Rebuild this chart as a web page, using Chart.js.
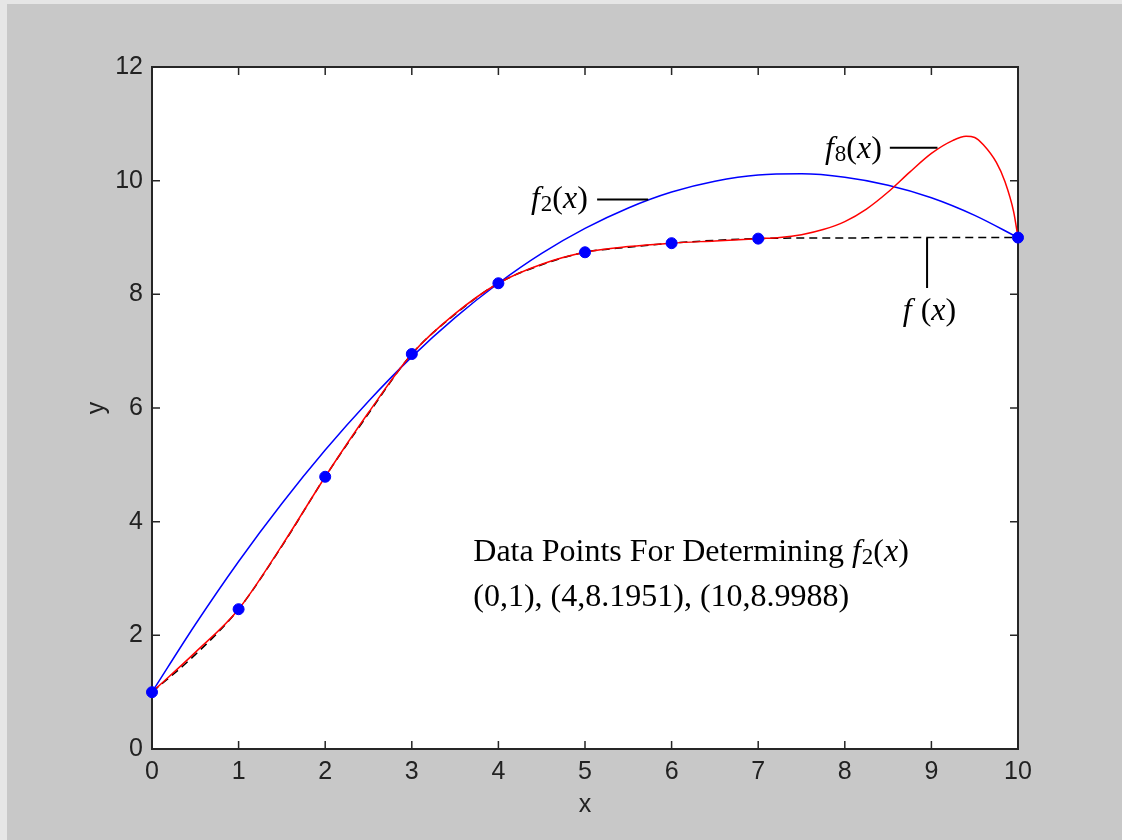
<!DOCTYPE html>
<html>
<head>
<meta charset="utf-8">
<title>f(x), f2(x), f8(x)</title>
<script src="https://cdn.jsdelivr.net/npm/chart.js@4.4.1/dist/chart.umd.min.js"></script>
<style>
  html, body { margin: 0; padding: 0; background: #c8c8c8; }
  #plot { display: block; }
</style>
</head>
<body>
<canvas id="plot" width="1122" height="840"></canvas>
<script>
'use strict';

/* Tick values */
const xTickValues = [0, 1, 2, 3, 4, 5, 6, 7, 8, 9, 10];
const yTickValues = [0, 2, 4, 6, 8, 10, 12];

/* f(x) - dashed black */
const fX = [0, 0.5, 1, 1.5, 2, 2.5, 3, 3.5, 4, 4.5, 5, 5.5, 6, 6.5, 7, 7.5, 8, 8.5, 9, 9.5, 10];
const fY = [1, 1.66, 2.46, 3.57, 4.79, 5.90, 6.95, 7.65, 8.1951, 8.52, 8.74, 8.83, 8.90, 8.95, 8.98, 8.99, 8.99, 9.0, 9.0, 9.0, 8.9988];

/* f2(x) - blue quadratic */
const f2X = [0, 0.5, 1, 1.5, 2, 2.5, 3, 3.5, 4, 4.5, 5, 5.5, 6, 6.5, 7, 7.5, 8, 8.5, 9, 9.5, 10];
const f2Y = [1, 2.19, 3.30, 4.32, 5.26, 6.12, 6.90, 7.59, 8.1951, 8.72, 9.16, 9.52, 9.80, 9.99, 10.10, 10.12, 10.06, 9.92, 9.70, 9.39, 8.9988];

/* f8(x) - red 8th order */
const f8X = [0, 0.5, 1, 1.5, 2, 2.5, 3, 3.5, 4, 4.5, 5, 5.5, 6, 6.5, 7, 7.25, 7.5, 7.75, 8, 8.25, 8.5, 8.75, 9, 9.25, 9.4, 9.5, 9.6, 9.75, 9.85, 9.95, 10];
const f8Y = [1, 1.70, 2.46, 3.58, 4.79, 5.92, 6.95, 7.66, 8.1951, 8.53, 8.74, 8.84, 8.90, 8.94, 8.98, 9.00, 9.05, 9.14, 9.28, 9.50, 9.80, 10.15, 10.48, 10.71, 10.78, 10.76, 10.63, 10.32, 9.98, 9.45, 8.9988];

/* sample points */
const ptX = [0, 1, 2, 3, 4, 5, 6, 7, 10];
const ptY = [1, 2.46, 4.79, 6.95, 8.1951, 8.74, 8.90, 8.98, 8.9988];

const BG = '#c8c8c8';
const AXIS_COLOR = '#262626';
const TICK_FONT = { family: '"Liberation Sans", Arial, sans-serif', size: 25 };
const SERIF = '"Liberation Serif", "Times New Roman", serif';
const TEXT_SIZE = 32;

/* annotations, in data units */
const labelF2 = { x: 4.376, y: 9.525, lineX: [5.14, 5.73], lineY: 9.67 };
const labelF8 = { x: 7.77, y: 10.40, lineX: [8.52, 9.07], lineY: 10.58 };
const labelF = { x: 8.67, y: 7.55, lineX: 8.95, lineY: [8.99, 8.11] };
const noteBox = { x: 3.71, y1: 3.31, y2: 2.52 };

const f2Parts = [{ t: 'f', it: true }, { t: '2', sub: true }, { t: '(' }, { t: 'x', it: true }, { t: ')' }];
const f8Parts = [{ t: 'f', it: true }, { t: '8', sub: true }, { t: '(' }, { t: 'x', it: true }, { t: ')' }];
const fParts = [{ t: 'f', it: true }, { t: ' (' }, { t: 'x', it: true }, { t: ')' }];

const toXY = (xs, ys) => xs.map((x, i) => ({ x, y: ys[i] }));

/* draw text made of italic / subscript runs */
function drawRich(ctx, parts, x, y) {
  let cx = x;
  for (const p of parts) {
    const size = p.sub ? Math.round(TEXT_SIZE * 0.72) : TEXT_SIZE;
    ctx.font = `${p.it ? 'italic ' : ''}${size}px ${SERIF}`;
    ctx.fillText(p.t, cx, y + (p.sub ? 3 : 0));
    cx += ctx.measureText(p.t).width + (p.it && p.t === 'f' ? 1 : 0);
  }
  return cx;
}

/* background, white axes area, box and inward ticks */
const axesFrame = {
  id: 'axesFrame',
  beforeDraw(chart) {
    const { ctx, chartArea: a, width, height } = chart;
    ctx.save();
    ctx.fillStyle = BG;
    ctx.fillRect(0, 0, width, height);
    ctx.fillStyle = '#e6e6e6';
    ctx.fillRect(0, 0, 7, height);
    ctx.fillRect(0, 0, width, 4);
    ctx.fillStyle = '#ffffff';
    ctx.fillRect(a.left, a.top, a.right - a.left, a.bottom - a.top);
    ctx.restore();
  },
  beforeDatasetsDraw(chart) {
    const { ctx, chartArea: a, scales } = chart;
    ctx.save();
    ctx.strokeStyle = AXIS_COLOR;
    ctx.lineWidth = 2;
    ctx.strokeRect(a.left, a.top, a.right - a.left, a.bottom - a.top);
    ctx.lineWidth = 1.5;
    ctx.beginPath();
    xTickValues.forEach(v => {
      const px = scales.x.getPixelForValue(v);
      ctx.moveTo(px, a.bottom); ctx.lineTo(px, a.bottom - 8);
      ctx.moveTo(px, a.top); ctx.lineTo(px, a.top + 8);
    });
    yTickValues.forEach(v => {
      const py = scales.y.getPixelForValue(v);
      ctx.moveTo(a.left, py); ctx.lineTo(a.left + 8, py);
      ctx.moveTo(a.right, py); ctx.lineTo(a.right - 8, py);
    });
    ctx.stroke();
    ctx.restore();
  },
  afterDraw(chart) {
    const { ctx, chartArea: a, scales } = chart;
    const sx = v => scales.x.getPixelForValue(v);
    const sy = v => scales.y.getPixelForValue(v);
    ctx.save();

    // axis titles
    ctx.fillStyle = '#222';
    ctx.font = `${TICK_FONT.size}px ${TICK_FONT.family}`;
    ctx.textAlign = 'center';
    ctx.textBaseline = 'middle';
    ctx.fillText('x', (a.left + a.right) / 2, 805);
    ctx.save();
    ctx.translate(97, (a.top + a.bottom) / 2);
    ctx.rotate(-Math.PI / 2);
    ctx.fillText('y', 0, 0);
    ctx.restore();

    // curve labels with leader lines
    ctx.fillStyle = '#000';
    ctx.strokeStyle = '#000';
    ctx.lineWidth = 2;
    ctx.textAlign = 'left';
    ctx.textBaseline = 'alphabetic';
    drawRich(ctx, f2Parts, sx(labelF2.x), sy(labelF2.y));
    drawRich(ctx, f8Parts, sx(labelF8.x), sy(labelF8.y));
    drawRich(ctx, fParts, sx(labelF.x), sy(labelF.y));
    ctx.beginPath();
    ctx.moveTo(sx(labelF2.lineX[0]), sy(labelF2.lineY));
    ctx.lineTo(sx(labelF2.lineX[1]), sy(labelF2.lineY));
    ctx.moveTo(sx(labelF8.lineX[0]), sy(labelF8.lineY));
    ctx.lineTo(sx(labelF8.lineX[1]), sy(labelF8.lineY));
    ctx.moveTo(sx(labelF.lineX), sy(labelF.lineY[0]));
    ctx.lineTo(sx(labelF.lineX), sy(labelF.lineY[1]));
    ctx.stroke();

    // note about the f2 data points
    const end = drawRich(ctx, [{ t: 'Data Points For Determining ' }], sx(noteBox.x), sy(noteBox.y1));
    drawRich(ctx, f2Parts, end, sy(noteBox.y1));
    drawRich(ctx, [{ t: '(0,1), (4,8.1951), (10,8.9988)' }], sx(noteBox.x), sy(noteBox.y2));
    ctx.restore();
  }
};

const lineBase = {
  pointRadius: 0,
  borderWidth: 1.5,
  fill: false,
  cubicInterpolationMode: 'monotone'
};

const chart = new Chart(document.getElementById('plot').getContext('2d'), {
  type: 'line',
  data: {
    datasets: [
      {
        ...lineBase,
        label: 'f(x)',
        data: toXY(fX, fY),
        borderColor: '#000000',
        borderDash: [8, 5],
        order: 4
      },
      {
        ...lineBase,
        label: 'f2(x)',
        data: toXY(f2X, f2Y),
        borderColor: '#0000ff',
        order: 3
      },
      {
        ...lineBase,
        label: 'f8(x)',
        data: toXY(f8X, f8Y),
        borderColor: '#ff0000',
        order: 2
      },
      {
        label: 'points',
        data: toXY(ptX, ptY),
        showLine: false,
        pointRadius: 5.5,
        pointStyle: 'circle',
        pointBackgroundColor: '#0000ff',
        pointBorderColor: '#0000ff',
        pointBorderWidth: 1,
        clip: false,
        order: 1
      }
    ]
  },
  options: {
    responsive: false,
    animation: false,
    devicePixelRatio: 1,
    events: [],
    layout: { padding: { top: 67, right: 104, left: 0, bottom: 0 } },
    plugins: {
      legend: { display: false },
      tooltip: { enabled: false }
    },
    scales: {
      x: {
        type: 'linear',
        min: 0,
        max: 10,
        afterBuildTicks: s => { s.ticks = xTickValues.map(v => ({ value: v })); },
        afterFit: s => { s.height = 91; },
        grid: { display: false, drawTicks: false },
        border: { display: false },
        ticks: { font: TICK_FONT, color: '#222', padding: 8, maxRotation: 0 }
      },
      y: {
        type: 'linear',
        min: 0,
        max: 12,
        afterBuildTicks: s => { s.ticks = yTickValues.map(v => ({ value: v })); },
        afterFit: s => { s.width = 152; },
        grid: { display: false, drawTicks: false },
        border: { display: false },
        ticks: { font: TICK_FONT, color: '#222', padding: 9 }
      }
    }
  },
  plugins: [axesFrame]
});
</script>
</body>
</html>
